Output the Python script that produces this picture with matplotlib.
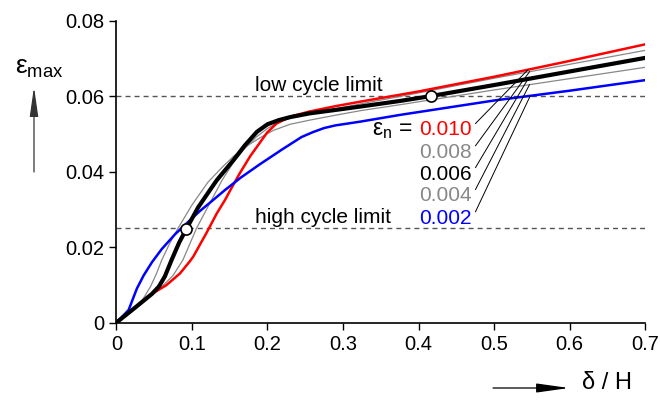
import numpy as np
import matplotlib.pyplot as plt

plt.rcParams['font.family'] = ['Liberation Sans', 'DejaVu Sans']
plt.rcParams['mathtext.fontset'] = 'custom'
plt.rcParams['mathtext.rm'] = 'Liberation Sans'
plt.rcParams['mathtext.it'] = 'Liberation Sans'

# eps_max vs delta/H, one curve per eps_n
x_010 = [0, 0.025, 0.047, 0.066, 0.084, 0.097, 0.1017, 0.119, 0.133, 0.1437, 0.151, 0.163, 0.177,
         0.1995, 0.212, 0.23, 0.256, 0.29, 0.323, 0.4, 0.5, 0.548, 0.6, 0.7]
y_010 = [0, 0.004, 0.0076, 0.0099, 0.013, 0.0162, 0.0175, 0.0237, 0.029, 0.0325, 0.0352, 0.0395, 0.0441,
         0.0504, 0.0528, 0.0546, 0.056, 0.0574, 0.0586, 0.0613, 0.0652, 0.0672, 0.0694, 0.0738]

x_008 = [0, 0.025, 0.047, 0.06, 0.075, 0.088, 0.106, 0.124, 0.14, 0.155, 0.17, 0.185, 0.2,
         0.215, 0.235, 0.26, 0.29, 0.323, 0.376, 0.5, 0.6, 0.7]
y_008 = [0, 0.004, 0.0076, 0.0095, 0.0125, 0.0166, 0.025, 0.0318, 0.0378, 0.0425, 0.0462, 0.0492, 0.0515,
         0.0532, 0.0545, 0.0556, 0.0567, 0.058, 0.06, 0.0648, 0.0685, 0.0722]

x_006 = [0, 0.025, 0.047, 0.056, 0.064, 0.073, 0.083, 0.093, 0.108, 0.124, 0.133, 0.155, 0.17, 0.186,
         0.2, 0.215, 0.23, 0.256, 0.29, 0.323, 0.376, 0.417, 0.5, 0.6, 0.7]
y_006 = [0, 0.004, 0.0076, 0.0095, 0.0122, 0.0166, 0.0212, 0.025, 0.0305, 0.0352, 0.0378, 0.0431, 0.047,
         0.0506, 0.0526, 0.0537, 0.0545, 0.0555, 0.0564, 0.0573, 0.0588, 0.0601, 0.063, 0.0666, 0.0702]

x_004 = [0, 0.025, 0.035, 0.045, 0.053, 0.06, 0.07, 0.0815, 0.1, 0.121, 0.14, 0.155, 0.17, 0.19,
         0.208, 0.23, 0.256, 0.29, 0.323, 0.376, 0.5, 0.6, 0.7]
y_004 = [0, 0.004, 0.0062, 0.0095, 0.013, 0.0166, 0.0208, 0.025, 0.0312, 0.0372, 0.0412, 0.0441, 0.0465,
         0.049, 0.051, 0.0526, 0.0537, 0.055, 0.0562, 0.0578, 0.0617, 0.0647, 0.0677]

x_002 = [0, 0.016, 0.027, 0.036, 0.047, 0.06, 0.078, 0.095, 0.11, 0.128, 0.144, 0.165, 0.19, 0.22,
         0.245, 0.26, 0.275, 0.29, 0.323, 0.376, 0.5, 0.6, 0.7]
y_002 = [0, 0.0033, 0.009, 0.0125, 0.016, 0.0195, 0.0235, 0.0267, 0.0295, 0.0325, 0.0352, 0.0385, 0.042,
         0.046, 0.0492, 0.0505, 0.0516, 0.0523, 0.0533, 0.0551, 0.0589, 0.0615, 0.0643]

eps_n = ['0.010', '0.008', '0.006', '0.004', '0.002']
colors = ['#ff0000', '#888888', '#000000', '#888888', '#0000ff']
widths = [1.8, 0.9, 3.0, 0.9, 1.8]
label_y = [0.0511, 0.0452, 0.0394, 0.0336, 0.0277]
lead_x = [0.545, 0.547, 0.545, 0.547, 0.548]

limits = [0.06, 0.025]
limit_names = ['low cycle limit', 'high cycle limit']
limit_text_y = [0.0614, 0.0263]
marker_x = [0.0924, 0.417]

xticks = [0, 0.1, 0.2, 0.3, 0.4, 0.5, 0.6, 0.7]
xlabels = ['0', '0.1', '0.2', '0.3', '0.4', '0.5', '0.6', '0.7']
yticks = [0, 0.02, 0.04, 0.06, 0.08]
ylabels = ['0', '0.02', '0.04', '0.06', '0.08']

curves = [(x_010, y_010), (x_008, y_008), (x_006, y_006), (x_004, y_004), (x_002, y_002)]

fig = plt.figure(figsize=(6.6, 4.0), dpi=100)
ax = fig.add_axes([0.1765, 0.19375, 0.8008, 0.75375])

for yl, name, ty in zip(limits, limit_names, limit_text_y):
    ax.axhline(yl, color='#555555', lw=1.0, ls=(0, (3.6, 2.9)), zorder=1)
    ax.text(0.183, ty, name, fontsize=15, ha='left', va='baseline')

# draw order: thin greys first, then red/blue, black on top
for i in [1, 3, 0, 4, 2]:
    xs, ys = curves[i]
    ax.plot(xs, ys, color=colors[i], lw=widths[i], solid_capstyle='round', zorder=2)

ax.plot(marker_x, np.interp(marker_x, x_006, y_006), 'o', mfc='white', mec='black',
        ms=8, mew=1.2, zorder=5)

for (xs, ys), lab, c, ly, lx in zip(curves, eps_n, colors, label_y, lead_x):
    ax.text(0.4708, ly, lab, color=c, fontsize=15, ha='right', va='center')
    ax.plot([0.4755, lx], [ly + 0.0017, np.interp(lx, xs, ys)], color='black', lw=0.7, zorder=3)
ax.text(0.392, label_y[0], r'$ε_n$ =', fontsize=16.5, ha='right', va='center')

ax.set_xlim(0, 0.7)
ax.set_ylim(0, 0.08)
ax.set_xticks(xticks, xlabels)
ax.set_yticks(yticks, ylabels)
ax.tick_params(labelsize=14.5, length=5, width=1, pad=4)
for s in ['top', 'right']:
    ax.spines[s].set_visible(False)
for s in ['left', 'bottom']:
    ax.spines[s].set_linewidth(1.2)

# axis labels with arrows, placed in figure coordinates
fig.text(39 / 660, 1 - 68 / 400, r'$ε_{\mathrm{max}}$', fontsize=19, ha='center', va='center')
fig.text(607 / 660, 1 - 383 / 400, 'δ / H', fontsize=17, ha='center', va='center')
ax.annotate('', xy=(34 / 660, 1 - 87 / 400), xytext=(34 / 660, 1 - 172 / 400),
            xycoords='figure fraction', textcoords='figure fraction',
            arrowprops=dict(arrowstyle='-|>,head_length=0.9,head_width=0.13', color='#333333',
                            lw=0.9, mutation_scale=20, shrinkA=0, shrinkB=0))
ax.annotate('', xy=(569 / 660, 1 - 388 / 400), xytext=(493 / 660, 1 - 388 / 400),
            xycoords='figure fraction', textcoords='figure fraction',
            arrowprops=dict(arrowstyle='-|>,head_length=1.0,head_width=0.14', color='black',
                            lw=0.9, mutation_scale=20, shrinkA=0, shrinkB=0))

fig.savefig('out.png', dpi=100)
